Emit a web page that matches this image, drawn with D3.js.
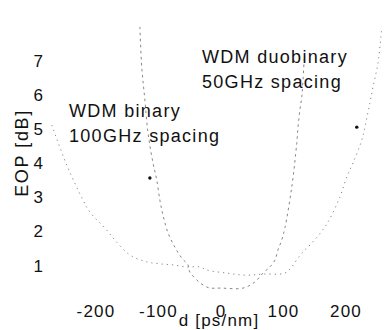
<!DOCTYPE html>
<html>
<head>
<meta charset="utf-8">
<script src="https://cdn.jsdelivr.net/npm/d3@7"></script>
<style>
  body { margin: 0; background: #fff; }
  svg text { font-family: "Liberation Sans", Arial, sans-serif; fill: #111; }
</style>
</head>
<body>
<div id="chart"></div>
<script>
// tick values
var xTicks = [-200, -100, 0, 100, 200];
var yTicks = [1, 2, 3, 4, 5, 6, 7];

// WDM binary 100GHz spacing (narrow curve): dispersion [ps/nm], EOP [dB]
var binaryD   = [-129, -126, -121, -116, -108, -102, -97, -92, -84, -73, -62, -52, -49, -22, 2, 36, 55, 68, 79, 87, 92, 98, 103, 114, 122, 124, 127, 130, 132, 134];
var binaryEOP = [7.98, 6.8, 5.84, 4.87, 3.99, 3.49, 2.9, 2.46, 1.94, 1.52, 1.2, 1.0, 0.79, 0.35, 0.32, 0.32, 0.5, 0.76, 0.94, 1.14, 1.44, 1.73, 2.08, 3.28, 4.57, 5.04, 5.54, 5.92, 6.42, 7.07];

// WDM duobinary 50GHz spacing (broad curve)
var duoD   = [-270, -246, -220, -209, -182, -169, -145, -118, -97, -76, -54, -33, -22, 10, 39, 68, 103, 114, 124, 135, 143, 169, 191, 202, 212, 226, 231, 239, 244, 252, 258];
var duoEOP = [5.1, 3.93, 2.9, 2.55, 2.02, 1.73, 1.29, 1.09, 1.03, 1.0, 0.94, 0.94, 0.85, 0.76, 0.7, 0.73, 0.76, 0.94, 1.2, 1.44, 1.58, 2.17, 2.99, 3.58, 3.99, 4.66, 5.04, 5.75, 6.22, 6.92, 7.98];

// label pointer tips
var pointerD   = [-113, 218];
var pointerEOP = [3.55, 5.04];

var width = 386, height = 330;

var svg = d3.select("#chart").append("svg")
  .attr("width", width)
  .attr("height", height);

var x = d3.scaleLinear().domain([-280, 270]).range([45.5, 389.25]);
var y = d3.scaleLinear().domain([0, 8]).range([299, 26.2]);

// x tick labels (no axis line drawn in the original)
var xAxis = svg.append("g")
  .attr("transform", "translate(0,317)")
  .call(d3.axisBottom(x).tickValues(xTicks).tickSize(0).tickPadding(0).tickFormat(function(d) { return d < 0 ? "-" + (-d) : d; }));
xAxis.select(".domain").remove();
xAxis.selectAll("text")
  .attr("dy", 0)
  .style("font-size", "17px")
  .style("letter-spacing", "1.2px");

var yAxis = svg.append("g")
  .attr("transform", "translate(43,0)")
  .call(d3.axisLeft(y).tickValues(yTicks).tickSize(0).tickPadding(0));
yAxis.select(".domain").remove();
yAxis.selectAll("text")
  .attr("dy", "0.36em")
  .style("font-size", "17px");

// axis titles
svg.append("text")
  .attr("x", 219)
  .attr("y", 326)
  .attr("text-anchor", "middle")
  .style("font-size", "17px")
  .style("letter-spacing", "1.2px")
  .text("d [ps/nm]");

svg.append("text")
  .attr("transform", "translate(28,153) rotate(-90)")
  .attr("text-anchor", "middle")
  .style("font-size", "18px")
  .style("letter-spacing", "1.6px")
  .text("EOP [dB]");

// curves
var line = d3.line()
  .x(function(d) { return x(d[0]); })
  .y(function(d) { return y(d[1]); })
  .curve(d3.curveCatmullRom);

svg.append("path")
  .datum(d3.zip(binaryD, binaryEOP))
  .attr("d", line)
  .attr("fill", "none")
  .attr("stroke", "#777")
  .attr("stroke-width", 0.9)
  .attr("stroke-dasharray", "2.5,3.5");

svg.append("path")
  .datum(d3.zip(duoD, duoEOP))
  .attr("d", line)
  .attr("fill", "none")
  .attr("stroke", "#777")
  .attr("stroke-width", 0.9)
  .attr("stroke-dasharray", "1.2,4");

svg.selectAll("circle.tip")
  .data(d3.zip(pointerD, pointerEOP))
  .enter()
  .append("circle")
    .attr("class", "tip")
    .attr("cx", function(d) { return x(d[0]); })
    .attr("cy", function(d) { return y(d[1]); })
    .attr("r", 1.7)
    .attr("fill", "#111");

// annotations
var notes = [
  { x: 69, y: 117, lines: ["WDM binary", "100GHz spacing"] },
  { x: 202, y: 63, lines: ["WDM duobinary", "50GHz spacing"] }
];
notes.forEach(function(n) {
  var t = svg.append("text")
    .attr("x", n.x)
    .attr("y", n.y)
    .style("font-size", "18px")
    .style("letter-spacing", "1.3px");
  n.lines.forEach(function(s, i) {
    t.append("tspan").attr("x", n.x).attr("dy", i == 0 ? 0 : 25).text(s);
  });
});
</script>
</body>
</html>
